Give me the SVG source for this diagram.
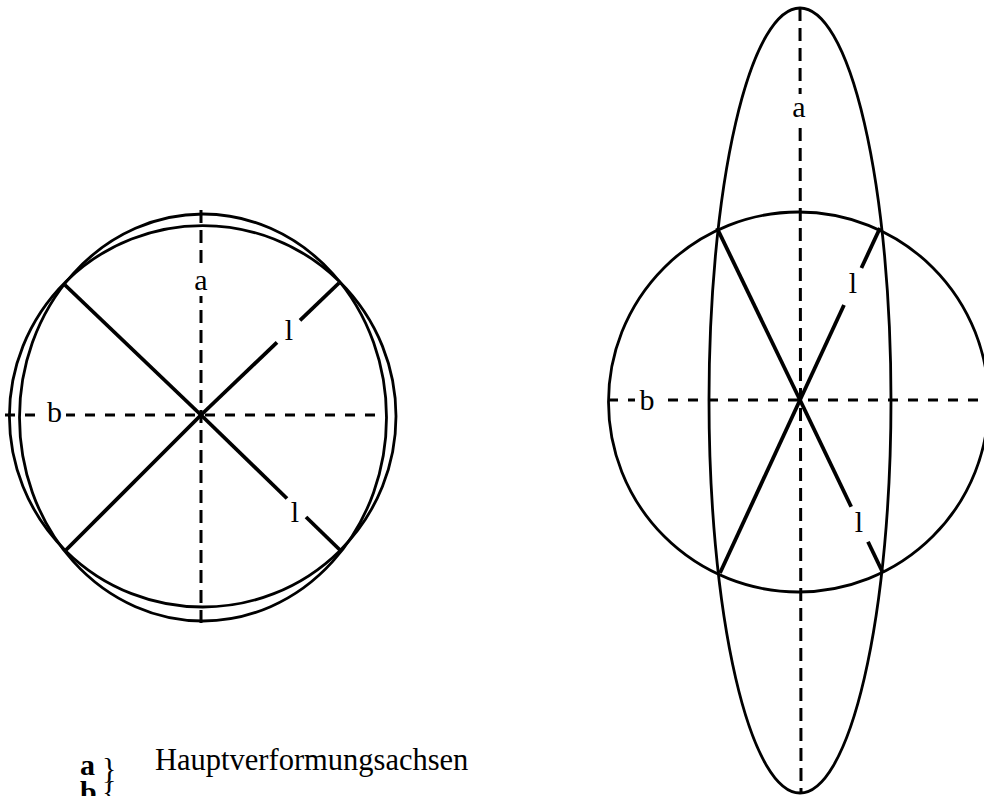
<svg xmlns="http://www.w3.org/2000/svg" width="984" height="796" viewBox="0 0 984 796">
<style>
.sh{fill:none;stroke:#000;stroke-width:2.8}
.ln{fill:none;stroke:#000;stroke-width:3.8;stroke-linecap:butt}
.dh{fill:none;stroke:#000;stroke-width:3;stroke-dasharray:10 10}
.dv{fill:none;stroke:#000;stroke-width:3;stroke-dasharray:13 7}
.bg{fill:#fff;stroke:none}
.lb{font-family:"Liberation Serif","Times New Roman",serif;font-size:30px;fill:#000;text-anchor:middle}
.lg{font-family:"Liberation Serif","Times New Roman",serif;fill:#000}
</style>
<rect width="984" height="796" fill="#fff"/>
<g id="left">
<ellipse class="sh" cx="202.7" cy="416.3" rx="193.3" ry="190.7"/>
<ellipse class="sh" cx="203" cy="417.5" rx="183.5" ry="203.5"/>
<g id="left-lines">
<line class="ln" x1="65" y1="285" x2="201" y2="415"/>
<line class="ln" x1="66" y1="550" x2="201" y2="415"/>
<line class="ln" x1="201" y1="415" x2="277" y2="342.3"/>
<line class="ln" x1="300" y1="320.3" x2="339" y2="283"/>
<line class="ln" x1="201" y1="415" x2="287" y2="498.5"/>
<line class="ln" x1="306" y1="517" x2="341" y2="551"/>
</g>
<line class="dv" x1="201" y1="210" x2="201" y2="624"/>
<line class="dh" x1="5" y1="415" x2="387" y2="415"/>
<rect class="bg" x="192" y="266" width="18" height="30"/>
<rect class="bg" x="43" y="398" width="23" height="28"/>
<text class="lb" x="201" y="290">a</text>
<text class="lb" x="54.5" y="422">b</text>
<text class="lb" x="289" y="340">l</text>
<text class="lb" x="295" y="522">l</text>
</g>
<g id="right">
<circle class="sh" cx="798.5" cy="402" r="190"/>
<ellipse class="sh" cx="800" cy="400.5" rx="91" ry="392.5"/>
<g id="right-lines">
<line class="ln" x1="717" y1="228" x2="800" y2="400"/>
<line class="ln" x1="720" y1="573" x2="800" y2="400"/>
<line class="ln" x1="800" y1="400" x2="844" y2="305"/>
<line class="ln" x1="861.4" y1="268" x2="880" y2="228"/>
<line class="ln" x1="800" y1="400" x2="851.2" y2="506.7"/>
<line class="ln" x1="868" y1="541.7" x2="883" y2="573"/>
</g>
<line class="dv" x1="800" y1="8" x2="801" y2="793"/>
<line class="dh" x1="608" y1="400" x2="984" y2="400"/>
<rect class="bg" x="790" y="94" width="18" height="30"/>
<rect class="bg" x="635" y="386" width="24" height="28"/>
<text class="lb" x="799" y="117">a</text>
<text class="lb" x="647" y="410">b</text>
<text class="lb" x="853" y="293">l</text>
<text class="lb" x="859" y="532">l</text>
</g>
<g id="legend">
<text class="lg" x="80" y="775" font-size="30" font-weight="bold">a</text>
<text class="lg" x="80" y="802" font-size="30" font-weight="bold">b</text>
<text class="lg" x="102" y="778" font-size="30">}</text>
<text class="lg" x="102" y="801" font-size="30">{</text>
<text class="lg" x="155" y="770" font-size="30.5">Hauptverformungsachsen</text>
</g>
</svg>
